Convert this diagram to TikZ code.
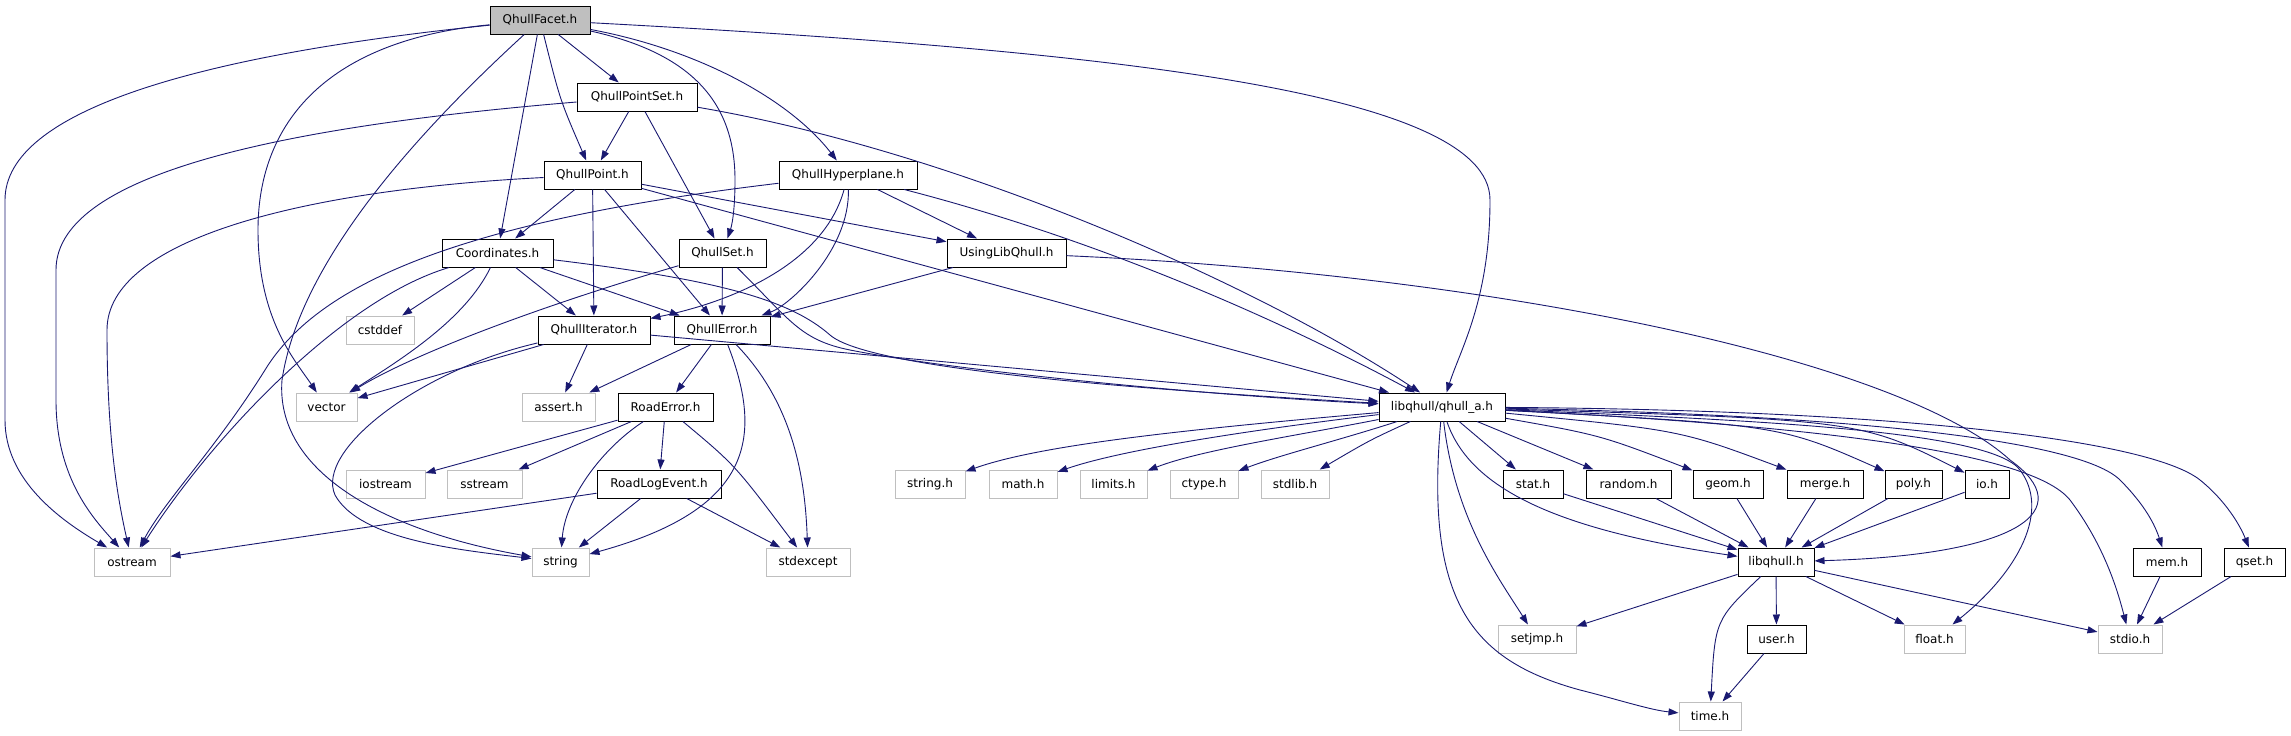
\documentclass[tikz,border=0pt]{standalone}
\usepackage{fontspec}
\setmainfont{DejaVu Sans}
\usetikzlibrary{arrows.meta}
\definecolor{edgeblue}{HTML}{191970}
\definecolor{sysgray}{HTML}{BFBFBF}
\definecolor{rootfill}{HTML}{BFBFBF}
\tikzset{
  nb/.style={draw=black, line width=1pt, minimum height=28pt, inner sep=0pt, fill=white,
             font=\fontsize{12}{14}\selectfont},
  gb/.style={nb, draw=sysgray},
  rootbox/.style={nb, fill=rootfill},
  eg/.style={draw=edgeblue, line width=0.9pt, -{Triangle[length=10pt,width=7pt]}, color=edgeblue},
}
\begin{document}
\begin{tikzpicture}[x=1pt,y=-1pt]
\useasboundingbox (0,0) rectangle (2291,736);
% row 1
\node[rootbox, minimum width=100pt] (facet) at (540,20) {QhullFacet.h};
% row 2
\node[nb, minimum width=120pt] (pset) at (637,97) {QhullPointSet.h};
% row 3
\node[nb, minimum width=97pt] (point) at (592.5,175) {QhullPoint.h};
\node[nb, minimum width=138pt] (hyper) at (848,175) {QhullHyperplane.h};
% row 4
\node[nb, minimum width=111pt] (coord) at (497.5,253) {Coordinates.h};
\node[nb, minimum width=87pt] (hset) at (722.5,253) {QhullSet.h};
\node[nb, minimum width=119pt] (using) at (1006.5,253) {UsingLibQhull.h};
% row 5
\node[gb, minimum width=68pt] (cstddef) at (380,330) {cstddef};
\node[nb, minimum width=112pt] (iter) at (594,330) {QhullIterator.h};
\node[nb, minimum width=96pt] (err) at (722,330) {QhullError.h};
% row 6
\node[gb, minimum width=61pt] (vector) at (326.5,407) {vector};
\node[gb, minimum width=73pt] (assert) at (558.5,407) {assert.h};
\node[nb, minimum width=95pt] (roaderr) at (665.5,407) {RoadError.h};
\node[nb, minimum width=126pt] (qa) at (1442,407) {libqhull/qhull\_a.h};
% row 7
\node[gb, minimum width=79pt] (iostream) at (385.5,484) {iostream};
\node[gb, minimum width=75pt] (sstream) at (484.5,484) {sstream};
\node[nb, minimum width=124pt] (rlog) at (659,484) {RoadLogEvent.h};
\node[gb, minimum width=70pt] (stringh) at (930,484) {string.h};
\node[gb, minimum width=68pt] (mathh) at (1023,484) {math.h};
\node[gb, minimum width=67pt] (limitsh) at (1113.5,484) {limits.h};
\node[gb, minimum width=68pt] (ctypeh) at (1204,484) {ctype.h};
\node[gb, minimum width=68pt] (stdlibh) at (1295,484) {stdlib.h};
\node[nb, minimum width=60pt] (stat) at (1533,484) {stat.h};
\node[nb, minimum width=85pt] (random) at (1628.5,484) {random.h};
\node[nb, minimum width=70pt] (geom) at (1728,484) {geom.h};
\node[nb, minimum width=76pt] (merge) at (1825,484) {merge.h};
\node[nb, minimum width=57pt] (poly) at (1913.5,484) {poly.h};
\node[nb, minimum width=44pt] (io) at (1987,484) {io.h};
% row 8
\node[gb, minimum width=76pt] (ostream) at (132,562) {ostream};
\node[gb, minimum width=57pt] (string) at (560.5,562) {string};
\node[gb, minimum width=84pt] (stdexcept) at (808,562) {stdexcept};
\node[nb, minimum width=76pt] (libq) at (1776,562) {libqhull.h};
\node[nb, minimum width=68pt] (mem) at (2167,562) {mem.h};
\node[nb, minimum width=61pt] (qseth) at (2254.5,562) {qset.h};
% row 9
\node[gb, minimum width=78pt] (setjmp) at (1537,639) {setjmp.h};
\node[nb, minimum width=59pt] (user) at (1776.5,639) {user.h};
\node[gb, minimum width=61pt] (float) at (1934.5,639) {float.h};
\node[gb, minimum width=64pt] (stdio) at (2130,639) {stdio.h};
% row 10
\node[gb, minimum width=62pt] (time) at (1710,716) {time.h};

% ---- edges from QhullFacet.h
\draw[eg] (facet) .. controls (200,55) and (5,110) .. (5,200) -- (5,420) .. controls (5,480) and (60,520) .. (ostream);
\draw[eg] (facet) .. controls (330,40) and (258,120) .. (258,230) .. controls (258,320) and (295,360) .. (vector);
\draw[eg] (facet) .. controls (420,130) and (300,260) .. (282,380) .. controls (275,470) and (380,530) .. (string);
\draw[eg] (facet) -- (coord);
\draw[eg] (facet) .. controls (560,100) .. (point);
\draw[eg] (facet) -- (pset);
\draw[eg] (facet) .. controls (700,55) and (735,110) .. (735,180) .. controls (735,210) and (732,225) .. (hset);
\draw[eg] (facet) .. controls (700,50) and (790,100) .. (hyper);
\draw[eg] (facet) .. controls (1100,50) and (1490,90) .. (1490,200) .. controls (1490,300) and (1460,350) .. (qa);
% ---- QhullPointSet.h
\draw[eg] (pset) -- (point);
\draw[eg] (pset) -- (hset);
\draw[eg] (pset) .. controls (300,125) and (56,170) .. (56,270) -- (56,400) .. controls (56,480) and (95,520) .. (ostream);
\draw[eg] (pset) .. controls (950,150) and (1250,280) .. (qa);
% ---- QhullPoint.h
\draw[eg] (point) .. controls (300,190) and (107,240) .. (107,330) .. controls (107,440) and (118,500) .. (ostream);
\draw[eg] (point) -- (coord);
\draw[eg] (point) -- (iter);
\draw[eg] (point) -- (err);
\draw[eg] (point) -- (using);
\draw[eg] (point) -- (qa);
% ---- QhullHyperplane.h
\draw[eg] (hyper) .. controls (470,220) and (320,280) .. (265,370) .. controls (215,450) and (165,500) .. (ostream);
\draw[eg] (hyper) .. controls (825,260) and (740,300) .. (iter);
\draw[eg] (hyper) .. controls (850,250) and (790,305) .. (err);
\draw[eg] (hyper) -- (using);
\draw[eg] (hyper) .. controls (1100,240) and (1280,320) .. (qa);
% ---- Coordinates.h
\draw[eg] (coord) .. controls (340,300) and (210,440) .. (ostream);
\draw[eg] (coord) -- (cstddef);
\draw[eg] (coord) .. controls (465,320) and (400,360) .. (vector);
\draw[eg] (coord) -- (iter);
\draw[eg] (coord) -- (err);
\draw[eg] (coord) .. controls (720,280) and (790,300) .. (830,335) .. controls (870,370) and (1150,390) .. (qa);
% ---- QhullSet.h
\draw[eg] (hset) .. controls (560,300) and (420,350) .. (vector);
\draw[eg] (hset) -- (err);
\draw[eg] (hset) .. controls (790,320) and (800,340) .. (850,350) .. controls (950,370) and (1200,395) .. (qa);
% ---- UsingLibQhull.h
\draw[eg] (using) -- (err);
\draw[eg] (using) .. controls (1500,275) and (1900,360) .. (2010,460) .. controls (2080,510) and (2020,555) .. (libq);
% ---- QhullIterator.h
\draw[eg] (iter) -- (vector);
\draw[eg] (iter) .. controls (420,370) and (315,450) .. (335,495) .. controls (360,540) and (460,550) .. (string);
\draw[eg] (iter) -- (assert);
\draw[eg] (iter) -- (qa);
% ---- QhullError.h
\draw[eg] (err) -- (assert);
\draw[eg] (err) -- (roaderr);
\draw[eg] (err) .. controls (765,440) and (750,510) .. (string);
\draw[eg] (err) .. controls (790,400) and (805,470) .. (stdexcept);
% ---- RoadError.h
\draw[eg] (roaderr) -- (iostream);
\draw[eg] (roaderr) -- (sstream);
\draw[eg] (roaderr) .. controls (600,450) and (565,500) .. (string);
\draw[eg] (roaderr) -- (rlog);
\draw[eg] (roaderr) .. controls (735,465) .. (stdexcept);
% ---- RoadLogEvent.h
\draw[eg] (rlog) -- (ostream);
\draw[eg] (rlog) -- (string);
\draw[eg] (rlog) -- (stdexcept);
% ---- libqhull/qhull_a.h
\draw[eg] (qa) .. controls (1180,430) and (1040,445) .. (stringh);
\draw[eg] (qa) .. controls (1250,430) and (1120,450) .. (mathh);
\draw[eg] (qa) .. controls (1300,435) and (1200,450) .. (limitsh);
\draw[eg] (qa) .. controls (1340,440) and (1280,455) .. (ctypeh);
\draw[eg] (qa) .. controls (1370,440) .. (stdlibh);
\draw[eg] (qa) -- (stat);
\draw[eg] (qa) -- (random);
\draw[eg] (qa) .. controls (1600,435) .. (geom);
\draw[eg] (qa) .. controls (1680,430) .. (merge);
\draw[eg] (qa) .. controls (1780,425) .. (poly);
\draw[eg] (qa) .. controls (1860,420) .. (io);
\draw[eg] (qa) .. controls (1470,490) and (1560,530) .. (libq);
\draw[eg] (qa) .. controls (1455,520) and (1500,580) .. (setjmp);
\draw[eg] (qa) .. controls (1425,600) and (1470,660) .. (1580,690) .. controls (1620,700) and (1650,710) .. (time);
\draw[eg] (qa) .. controls (1750,420) and (1990,430) .. (2020,470) .. controls (2050,510) and (2020,570) .. (float);
\draw[eg] (qa) .. controls (1800,425) and (2030,450) .. (2070,500) .. controls (2100,540) and (2115,580) .. (stdio);
\draw[eg] (qa) .. controls (1850,415) and (2080,440) .. (2120,480) .. controls (2145,505) and (2155,525) .. (mem);
\draw[eg] (qa) .. controls (1900,410) and (2150,440) .. (2200,480) .. controls (2225,500) and (2240,525) .. (qseth);
% ---- second level headers
\draw[eg] (stat) -- (libq);
\draw[eg] (random) -- (libq);
\draw[eg] (geom) -- (libq);
\draw[eg] (merge) -- (libq);
\draw[eg] (poly) -- (libq);
\draw[eg] (io) -- (libq);
% ---- libqhull.h
\draw[eg] (libq) -- (setjmp);
\draw[eg] (libq) .. controls (1715,620) .. (time);
\draw[eg] (libq) -- (user);
\draw[eg] (libq) -- (float);
\draw[eg] (libq) -- (stdio);
\draw[eg] (user) -- (time);
\draw[eg] (mem) -- (stdio);
\draw[eg] (qseth) -- (stdio);
\end{tikzpicture}
\end{document}
